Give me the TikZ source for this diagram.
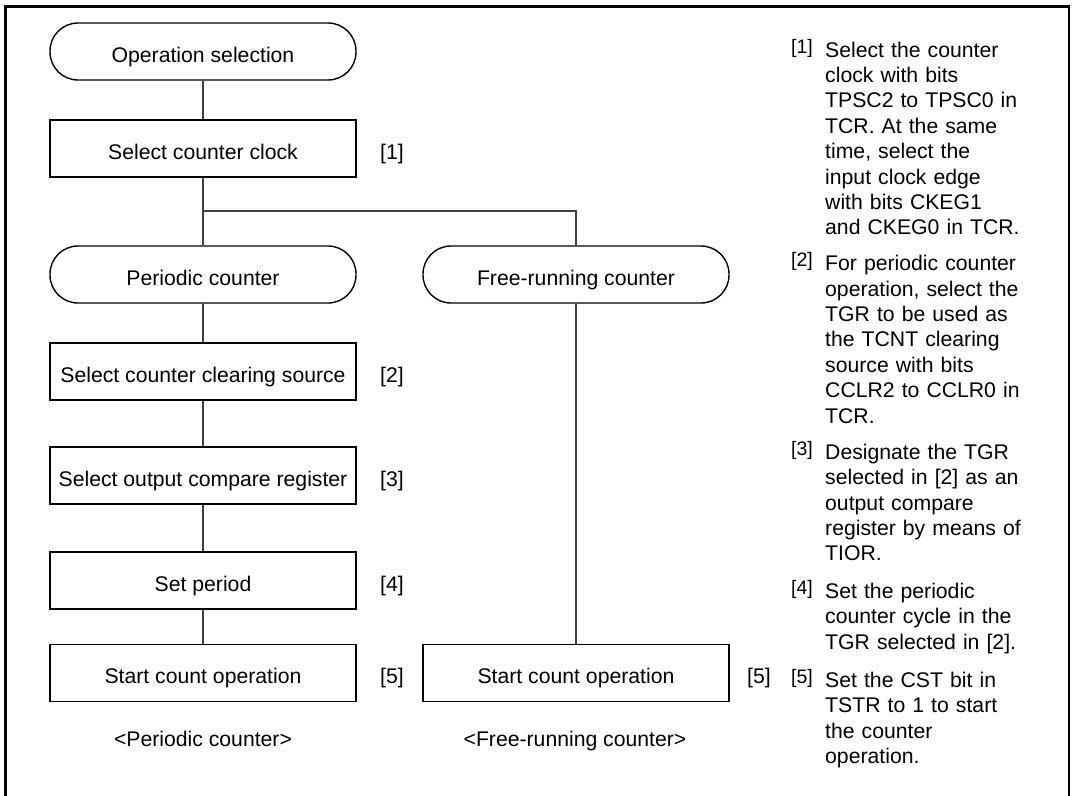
\documentclass[tikz,border=0pt]{standalone}
\usepackage{fontspec}
\setmainfont{Liberation Sans}
\begin{document}
\begin{tikzpicture}[x=1pt,y=-1pt,
  font=\fontsize{21.2}{25.4}\selectfont,
  boxbase/.style={draw=black,line width=1.4pt,minimum width=306pt,minimum height=57pt,
    inner sep=0pt,text height=21pt,text depth=0pt,anchor=center},
  procbox/.style={boxbase},
  termbox/.style={boxbase,rounded corners=28pt},
  conn/.style={draw=black!75,line width=1.1pt},
  steplabel/.style={inner sep=0pt,text height=21pt,text depth=0pt,anchor=west},
  caption/.style={inner sep=0pt,anchor=base},
  notenum/.style={inner sep=0pt,anchor=base west,font=\fontsize{19.5}{21}\selectfont},
  notetext/.style={inner sep=0pt,anchor=base west,text width=240pt,align=left}
]
\useasboundingbox (0,0) rectangle (1073,795);
% frame (bottom edge outside the picture)
\draw[line width=2.5pt] (5.7,800) -- (5.7,6.3) -- (1069,6.3) -- (1069,800);

% left column
\node[termbox] (op)  at (203,51.5)  {Operation selection};
\node[procbox] (clk) at (203,148.5) {Select counter clock};
\node[termbox] (per) at (203,274.5) {Periodic counter};
\node[procbox] (clr) at (203,371.5) {Select counter clearing source};
\node[procbox] (cmp) at (203,475.5) {Select output compare register};
\node[procbox] (prd) at (203,580.5) {Set period};
\node[procbox] (st1) at (203,673)   {Start count operation};

% right column
\node[termbox] (free) at (576,274.5) {Free-running counter};
\node[procbox] (st2)  at (576,673)   {Start count operation};

% step labels
\node[steplabel] (l1) at (380,148.5) {[1]};
\node[steplabel] (l2) at (380,371.5) {[2]};
\node[steplabel] (l3) at (380,475.5) {[3]};
\node[steplabel] (l4) at (380,580.5) {[4]};
\node[steplabel] (l5) at (380,673)   {[5]};
\node[steplabel] (r5) at (747,673)   {[5]};

% connectors
\coordinate (j) at (203,211);
\draw[conn] (op) -- (clk);
\draw[conn] (clk) -- (per);
\draw[conn] (j) -| (free);
\draw[conn] (per) -- (clr);
\draw[conn] (clr) -- (cmp);
\draw[conn] (cmp) -- (prd);
\draw[conn] (prd) -- (st1);
\draw[conn] (free) -- (st2);

% captions
\node[caption] (c1) at (203,746) {<Periodic counter>};
\node[caption] (c2) at (575,746) {<Free-running counter>};

% notes
\node[notenum] (n1) at (791,53) {[1]};
\node[notetext] (t1) at (825,57) {Select the counter\\clock with bits\\TPSC2 to TPSC0 in\\TCR. At the same\\time, select the\\input clock edge\\with bits CKEG1\\and CKEG0 in TCR.};
\node[notenum] (n2) at (791,266.7) {[2]};
\node[notetext] (t2) at (825,270.7) {For periodic counter\\operation, select the\\TGR to be used as\\the TCNT clearing\\source with bits\\CCLR2 to CCLR0 in\\TCR.};
\node[notenum] (n3) at (791,455.3) {[3]};
\node[notetext] (t3) at (825,459.3) {Designate the TGR\\selected in [2] as an\\output compare\\register by means of\\TIOR.};
\node[notenum] (n4) at (791,594.3) {[4]};
\node[notetext] (t4) at (825,598.3) {Set the periodic\\counter cycle in the\\TGR selected in [2].};
\node[notenum] (n5) at (791,683.3) {[5]};
\node[notetext] (t5) at (825,687.3) {Set the CST bit in\\TSTR to 1 to start\\the counter\\operation.};
\end{tikzpicture}
\end{document}
